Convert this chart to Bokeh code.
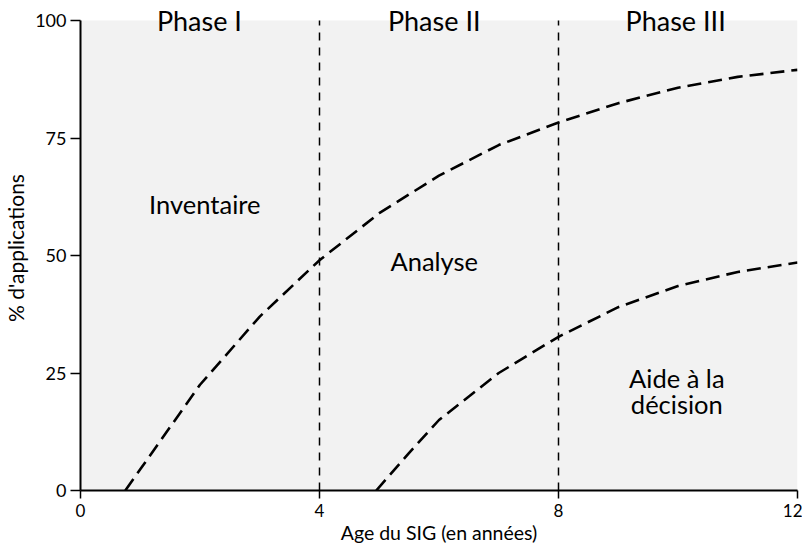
from bokeh.plotting import figure
from bokeh.models import Label, FixedTicker, Range1d
from bokeh.embed import file_html
from bokeh.resources import INLINE

# Data
upper_x = [0.75, 1.0, 2.0, 3.0, 4.0, 5.0, 6.0, 7.0, 8.0, 9.0, 10.0, 11.0, 12.0]
upper_y = [0.0, 4.5, 22.5, 37.0, 49.0, 59.0, 67.0, 73.5, 78.3, 82.4, 85.7, 88.0, 89.5]
lower_x = [4.95, 5.5, 6.0, 7.0, 8.0, 9.0, 10.0, 11.0, 12.0]
lower_y = [0.0, 8.0, 15.0, 25.0, 32.7, 39.0, 43.5, 46.5, 48.5]
phase_x = [4, 8]
x_ticks = [0, 4, 8, 12]
y_ticks = [0, 25, 50, 75, 100]
x_min, x_max = 0, 12
y_min, y_max = 0, 100
phase_labels = ["Phase I", "Phase II", "Phase III"]
phase_label_x = [1.99, 5.92, 9.96]
phase_label_y = 99.9
region_labels = [("Inventaire", 2.08, 61.0), ("Analyse", 5.92, 48.8),
                 ("Aide à la", 9.98, 23.9), ("décision", 9.98, 18.4)]

FONT = "Lato"

TOP = 5
BOTTOM = 56
H = 546
y_end = y_max * (H - TOP - BOTTOM) / (H - 20 - BOTTOM)

p = figure(width=802, height=H, output_backend="svg", toolbar_location=None,
           x_range=Range1d(x_min, x_max), y_range=Range1d(y_min, y_end),
           min_border_left=77, min_border_right=5, min_border_top=TOP,
           min_border_bottom=BOTTOM)
p.background_fill_color = "white"
p.border_fill_color = "white"
p.outline_line_color = None
p.grid.visible = False

# grey plotting area
p.quad(left=[x_min], right=[x_max], bottom=[y_min], top=[y_max],
       fill_color="#f2f2f2", line_color=None)

for ax in (p.xaxis[0], p.yaxis[0]):
    ax.axis_line_color = "black"
    ax.axis_line_width = 2
    ax.major_tick_line_color = "black"
    ax.major_tick_line_width = 1.5
    ax.minor_tick_line_color = None
    ax.major_tick_in = 0
    ax.major_label_text_font = FONT
    ax.major_label_text_font_size = "17px"
    ax.major_label_text_color = "black"
    ax.axis_label_text_font = FONT
    ax.axis_label_text_font_style = "normal"
    ax.axis_label_text_color = "black"

p.xaxis.ticker = FixedTicker(ticks=x_ticks)
p.yaxis.ticker = FixedTicker(ticks=y_ticks)
p.yaxis.bounds = (y_min, y_max)
p.yaxis.major_label_text_font_size = "18px"
p.xaxis.axis_label = "Age du SIG (en années)"
p.yaxis.axis_label = "% d'applications"
p.xaxis.axis_label_text_font_size = "19.5px"
p.yaxis.axis_label_text_font_size = "21px"
p.xaxis.major_tick_out = 8
p.xaxis.major_label_standoff = 5
p.xaxis.axis_label_standoff = 1
p.yaxis.major_tick_out = 10
p.yaxis.major_label_standoff = 4
p.yaxis.axis_label_standoff = 4

p.segment(x0=phase_x, x1=phase_x, y0=[y_min] * len(phase_x), y1=[y_max] * len(phase_x),
          line_color="black", line_width=1.5, line_dash="8 7")

p.line(upper_x, upper_y, line_color="black", line_width=2.6, line_dash="14 7")
p.line(lower_x, lower_y, line_color="black", line_width=2.6, line_dash="14 7")

for txt, xv in zip(phase_labels, phase_label_x):
    p.add_layout(Label(x=xv, y=phase_label_y, text=txt, text_align="center",
                       text_baseline="alphabetic", text_font=FONT,
                       text_font_size="27px", text_color="black"))

for txt, xv, yv in region_labels:
    p.add_layout(Label(x=xv, y=yv, text=txt, text_align="center",
                       text_baseline="alphabetic", text_font=FONT,
                       text_font_size="25.5px", text_color="black"))

open("out.html", "w").write(file_html(p, INLINE))
